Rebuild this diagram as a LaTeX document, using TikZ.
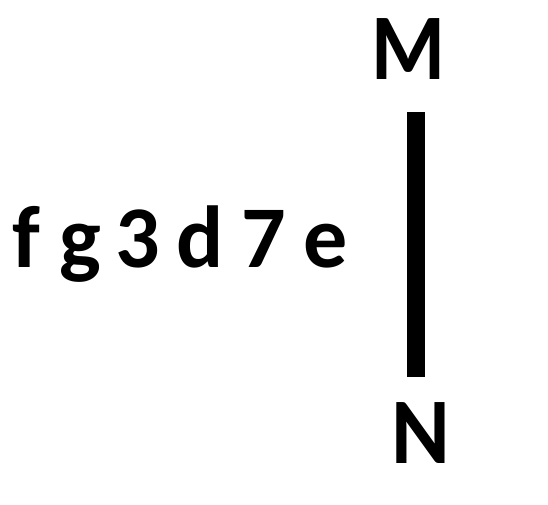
\documentclass[tikz,border=0pt]{standalone}
\usepackage{fontspec}
\setmainfont{Carlito}
\begin{document}
\begin{tikzpicture}[x=1pt,y=-1pt,
  ch/.style={inner sep=0pt,anchor=base,font=\bfseries\fontsize{88}{88}\selectfont},
  capletter/.style={inner sep=0pt,anchor=base,font=\bfseries\fontsize{94}{94}\selectfont}]
\useasboundingbox (0,0) rectangle (548,504);
\node[ch] (f) at (26,267) {f};
\node[ch] (g) at (80,267) {g};
\node[ch] (three) at (138,267) {3};
\node[ch] (d) at (200,267) {d};
\node[ch] (seven) at (264,267) {7};
\node[ch] (e) at (326,267) {e};
\node[capletter,xscale=0.9] (M) at (408,79) {M};
\node[capletter,xscale=0.95] (N) at (421,463) {N};
\coordinate (top) at (416,112);
\coordinate (bot) at (416,377);
\draw[line width=18pt] (top) -- (bot);
\end{tikzpicture}
\end{document}
